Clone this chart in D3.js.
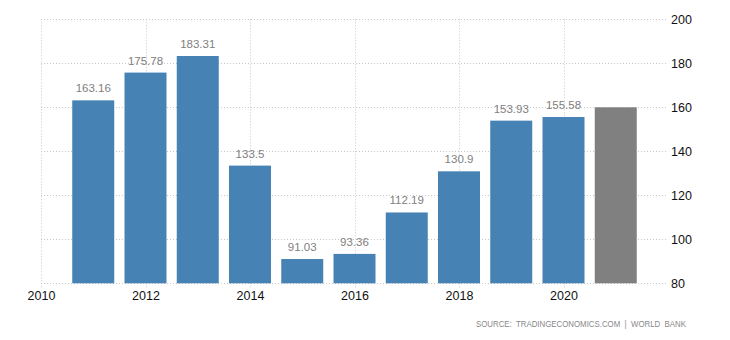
<!DOCTYPE html>
<html><head><meta charset="utf-8">
<script src="https://cdn.jsdelivr.net/npm/d3@7"></script>
<style>body{margin:0;background:#fff}svg{display:block}</style>
</head><body>
<svg id="c" width="730" height="340"></svg>
<script>
const years = [2011,2012,2013,2014,2015,2016,2017,2018,2019,2020,2021];
const values = [163.16,175.78,183.31,133.5,91.03,93.36,112.19,130.9,153.93,155.58,160];
const showLabel = [true,true,true,true,true,true,true,true,true,true,false];
const forecast = [false,false,false,false,false,false,false,false,false,false,true];
const yTicks = [80,100,120,140,160,180,200];
const xTicks = [2010,2012,2014,2016,2018,2020];
const source = "SOURCE:  TRADINGECONOMICS.COM  |  WORLD  BANK";

const svg = d3.select("#c");
const x = d3.scaleLinear().domain([2010,2022]).range([41,668]);
const y = d3.scaleLinear().domain([80,200]).range([283.3,19.3]);
const bw = 42;
const font = "'Liberation Sans', Arial, sans-serif";

// grid
const g = svg.append("g");
g.selectAll(".hy").data(yTicks).join("line")
  .attr("x1",x(2010)).attr("x2",668).attr("y1",d=>Math.round(y(d))+0.5).attr("y2",d=>Math.round(y(d))+0.5)
  .attr("stroke","#c8c8c8").attr("stroke-dasharray","1,2");
g.selectAll(".vx").data(xTicks).join("line")
  .attr("x1",d=>Math.round(x(d))+0.5).attr("x2",d=>Math.round(x(d))+0.5).attr("y1",y(200)).attr("y2",y(80)+4)
  .attr("stroke","#c8c8c8").attr("stroke-dasharray","1,2");

// bars
svg.selectAll(".bar").data(years).join("rect")
  .attr("x",(d)=>x(d)-bw/2).attr("width",bw)
  .attr("y",(d,i)=>y(values[i])).attr("height",(d,i)=>y(80)-y(values[i]))
  .attr("fill",(d,i)=>forecast[i]?"#808080":"#4682b4");

// value labels
svg.selectAll(".vl").data(years.filter((d,i)=>showLabel[i])).join("text")
  .attr("x",d=>x(d)).attr("y",d=>y(values[years.indexOf(d)])-8)
  .attr("text-anchor","middle").attr("font-family",font).attr("font-size","11.5px").attr("fill","#808080")
  .text(d=>String(values[years.indexOf(d)]));

// y axis (right)
const ya = svg.append("g").attr("transform","translate(668,0)")
  .call(d3.axisRight(y).tickValues(yTicks).tickSize(0).tickPadding(3));
ya.select(".domain").remove();
ya.selectAll("text").attr("font-family",font).attr("font-size","12.5px").attr("fill","#111");

// x axis
const xa = svg.append("g").attr("transform",`translate(0,${y(80)})`)
  .call(d3.axisBottom(x).tickValues(xTicks).tickFormat(d3.format("d")).tickSize(0).tickPadding(8));
xa.select(".domain").remove();
xa.selectAll("text").attr("font-family",font).attr("font-size","12.5px").attr("fill","#111");

svg.append("text").attr("x",476).attr("y",327).attr("xml:space","preserve")
  .attr("font-family",font).attr("font-size","8.5px").attr("fill","#888")
  .attr("textLength",210).attr("lengthAdjust","spacingAndGlyphs")
  .text(source);
</script>
</body></html>
